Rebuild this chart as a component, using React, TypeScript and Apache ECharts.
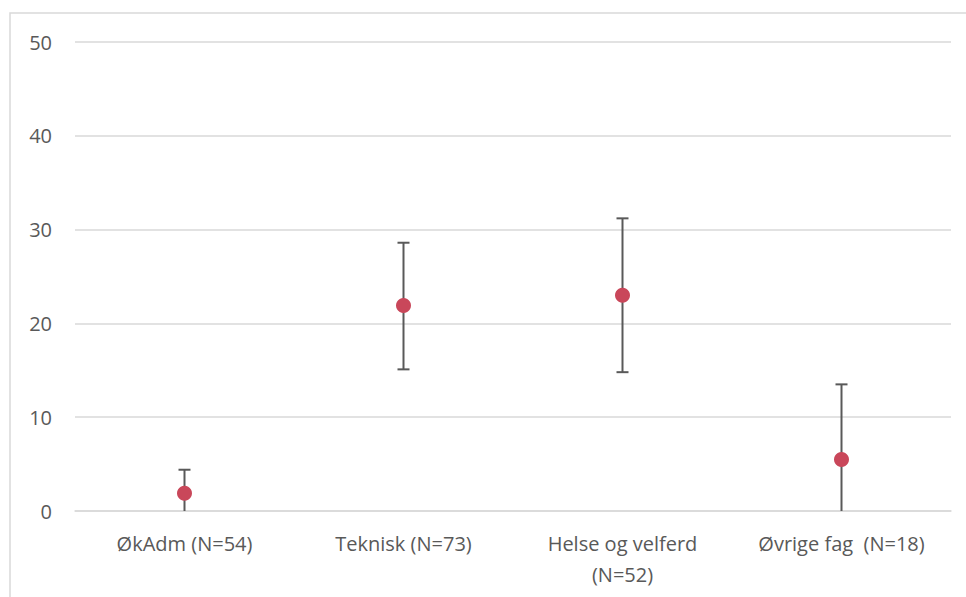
import React, { useEffect, useRef } from "react";
import * as echarts from "echarts";

const categories = ["ØkAdm (N=54)", "Teknisk (N=73)", "Helse og velferd\n(N=52)", "Øvrige fag  (N=18)"];
const means = [1.9, 21.9, 23.0, 5.5];
const lows = [0, 15.1, 14.8, 0];
const highs = [4.4, 28.6, 31.2, 13.5];
const yTicks = [0, 10, 20, 30, 40, 50];

const FONT = "Open Sans";
const TEXT = "#595959";

export default function App() {
  const ref = useRef<HTMLDivElement>(null);
  useEffect(() => {
    const chart = echarts.init(ref.current!, null, { renderer: "svg" });
    chart.setOption({
      animation: false,
      backgroundColor: "#ffffff",
      graphic: [
        {
          type: "rect",
          shape: { x: 10, y: 13, width: 1000, height: 700 },
          style: { fill: "none", stroke: "#d9d9d9", lineWidth: 1.5 },
          silent: true,
        },
      ],
      grid: { left: 75, right: 15, top: 42, bottom: 86, containLabel: false },
      xAxis: {
        type: "category",
        data: categories,
        axisTick: { show: false },
        axisLine: { lineStyle: { color: "#d9d9d9", width: 1.5 } },
        axisLabel: {
          color: TEXT,
          fontFamily: FONT,
          fontSize: 20,
          margin: 17,
          lineHeight: 31,
          interval: 0,
        },
      },
      yAxis: {
        type: "value",
        min: yTicks[0],
        max: yTicks[yTicks.length - 1],
        interval: 10,
        axisLine: { show: false },
        axisTick: { show: false },
        splitLine: { lineStyle: { color: "#d9d9d9", width: 1.5 } },
        axisLabel: { color: TEXT, fontFamily: FONT, fontSize: 20, margin: 23 },
      },
      series: [
        {
          type: "custom",
          data: categories.map((_, i) => [i, lows[i], highs[i]]),
          z: 2,
          renderItem: (params: any, api: any) => {
            const x = api.coord([api.value(0), api.value(1)])[0];
            const yLo = api.coord([api.value(0), api.value(1)])[1];
            const yHi = api.coord([api.value(0), api.value(2)])[1];
            const half = 6;
            const style = { stroke: "#595959", lineWidth: 2 };
            const children: any[] = [
              { type: "line", shape: { x1: x, y1: yLo, x2: x, y2: yHi }, style },
              { type: "line", shape: { x1: x - half, y1: yHi, x2: x + half, y2: yHi }, style },
            ];
            if (api.value(1) > 0) {
              children.push({ type: "line", shape: { x1: x - half, y1: yLo, x2: x + half, y2: yLo }, style });
            }
            return { type: "group", children };
          },
        },
        {
          type: "scatter",
          data: means,
          symbol: "circle",
          symbolSize: 15,
          itemStyle: { color: "#C9475A", opacity: 1 },
          z: 3,
        },
      ],
    });
    return () => chart.dispose();
  }, []);
  return <div ref={ref} style={{ width: 966, height: 597, position: "absolute", left: 0, top: 0 }} />;
}
